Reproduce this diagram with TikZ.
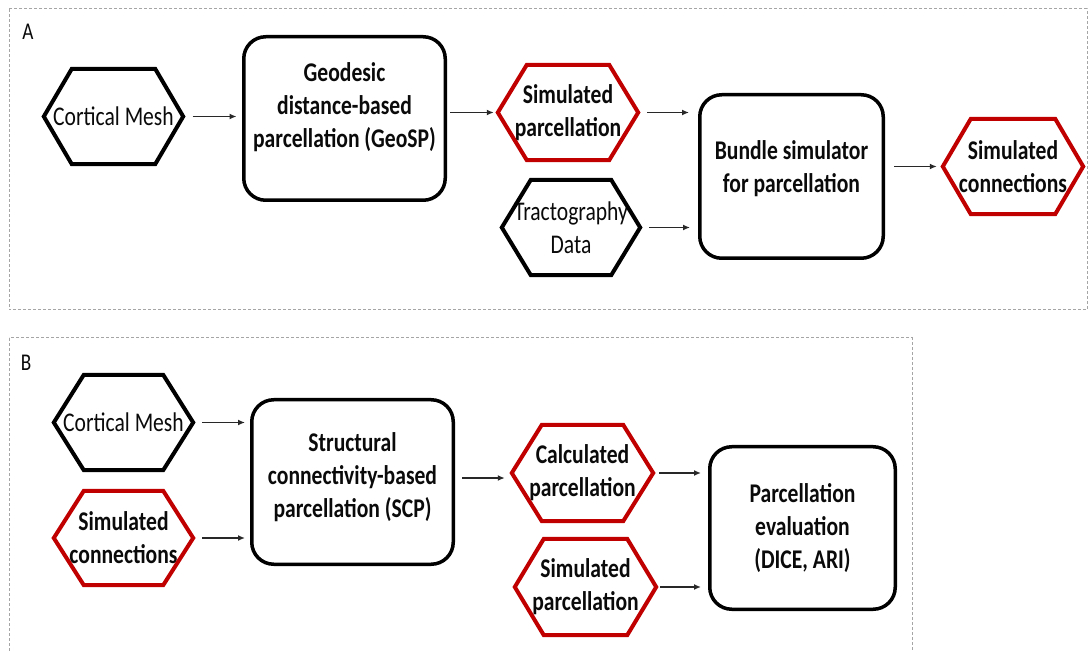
\documentclass[tikz,border=0pt]{standalone}
\usepackage{fontspec}
\setmainfont{Carlito}[FakeStretch=0.8]
\usetikzlibrary{arrows.meta}
\definecolor{hred}{RGB}{192,0,0}
\definecolor{panelgray}{RGB}{165,165,165}
\definecolor{arrgray}{RGB}{40,40,40}
\definecolor{txt}{RGB}{10,10,10}
\tikzset{
  boxnode/.style={draw=black, line width=3.5pt, rounded corners=22pt, align=center,
    font=\fontsize{27}{33}\selectfont\bfseries, text=txt, inner sep=0pt},
  hexnode/.style={inner sep=0pt, align=center, text=txt, font=\fontsize{27}{33}\selectfont},
  hexbold/.style={hexnode, font=\fontsize{27}{33}\selectfont\bfseries},
  arr/.style={-{Latex[length=7pt,width=6pt]}, line width=1.4pt, draw=arrgray},
  panel/.style={draw=panelgray, line width=1pt, dash pattern=on 3pt off 2pt},
  plabel/.style={font=\fontsize{24}{28}\selectfont, text=txt, inner sep=0pt}
}
\newcommand\hexdraw[3]{\draw[line width=4pt,#3] (#1.west) -- ([xshift=#2pt]#1.north west) -- ([xshift=-#2pt]#1.north east) -- (#1.east) -- ([xshift=-#2pt]#1.south east) -- ([xshift=#2pt]#1.south west) -- cycle;}
\begin{document}
\begin{tikzpicture}[x=1pt,y=-1pt]
\useasboundingbox (0,0) rectangle (1088,652);
% panels
\draw[panel] (9,9) rectangle (1087,310);
\draw[panel] (9,338) rectangle (912,665);
\node[plabel] (labA) at (28,32) {A};
\node[plabel] (labB) at (26,363) {B};
% ---------- Panel A ----------
\node[hexnode, minimum width=139pt, minimum height=95pt] (cmA) at (113.5,116.5) {Cortical Mesh};
\hexdraw{cmA}{28}{black}
\node[boxnode, minimum width=201.5pt, minimum height=163.5pt, text depth=26.6pt] (geo) at (344.5,118.5)
  {Geodesic\\distance-based\\parcellation (GeoSP)};
\node[hexbold, minimum width=140pt, minimum height=95pt] (spA) at (568,112.5) {Simulated\\parcellation};
\hexdraw{spA}{29}{hred}
\node[hexnode, minimum width=138pt, minimum height=95pt] (trA) at (571,227.5) {Tractography\\Data};
\hexdraw{trA}{29}{black}
\node[boxnode, minimum width=183.5pt, minimum height=163.5pt, text depth=19.6pt] (bundle) at (791.5,176.5)
  {Bundle simulator\\for parcellation};
\node[hexbold, minimum width=140pt, minimum height=95pt] (scA) at (1013,166.5) {Simulated\\connections};
\hexdraw{scA}{28}{hred}
\draw[arr] ([xshift=9.5pt]cmA.east) -- ([xshift=-5.5pt]geo.west |- cmA.east);
\draw[arr] ([xshift=3pt]geo.east |- spA.west) -- ([xshift=-4pt]spA.west);
\draw[arr] ([xshift=9pt]spA.east) -- ([xshift=-9pt]bundle.west |- spA.east);
\draw[arr] ([xshift=9pt]trA.east) -- ([xshift=-8pt]bundle.west |- trA.east);
\draw[arr] ([xshift=9pt]bundle.east |- scA.west) -- ([xshift=-6pt]scA.west);
% ---------- Panel B ----------
\node[hexnode, minimum width=139pt, minimum height=95pt] (cmB) at (123.5,422.5) {Cortical Mesh};
\hexdraw{cmB}{30}{black}
\node[hexbold, minimum width=139pt, minimum height=94pt] (scB) at (123.5,538) {Simulated\\connections};
\hexdraw{scB}{30}{hred}
\node[boxnode, minimum width=201.5pt, minimum height=164.5pt, text depth=14.6pt] (scp) at (352.5,482)
  {Structural\\connectivity-based\\parcellation (SCP)};
\node[hexbold, minimum width=141pt, minimum height=96pt] (calc) at (582.5,473) {Calculated\\parcellation};
\hexdraw{calc}{30}{hred}
\node[hexbold, minimum width=141pt, minimum height=96pt] (spB) at (585.5,587) {Simulated\\parcellation};
\hexdraw{spB}{29}{hred}
\node[boxnode, minimum width=185.5pt, minimum height=162.5pt] (eval) at (802.5,528)
  {Parcellation\\evaluation\\(DICE, ARI)};
\coordinate (scpout) at ([xshift=7pt,yshift=4pt]scp.east);
\draw[arr] ([xshift=9pt]cmB.east) -- ([xshift=-5pt]scp.west |- cmB.east);
\draw[arr] ([xshift=9pt]scB.east) -- ([xshift=-5pt]scp.west |- scB.east);
\draw[arr] (scpout) -- ([xshift=-7pt]calc.west |- scpout);
\draw[arr] ([xshift=6pt]calc.east) -- ([xshift=-7pt]eval.west |- calc.east);
\draw[arr] ([xshift=4pt]spB.east) -- ([xshift=-7pt]eval.west |- spB.east);
\end{tikzpicture}
\end{document}
